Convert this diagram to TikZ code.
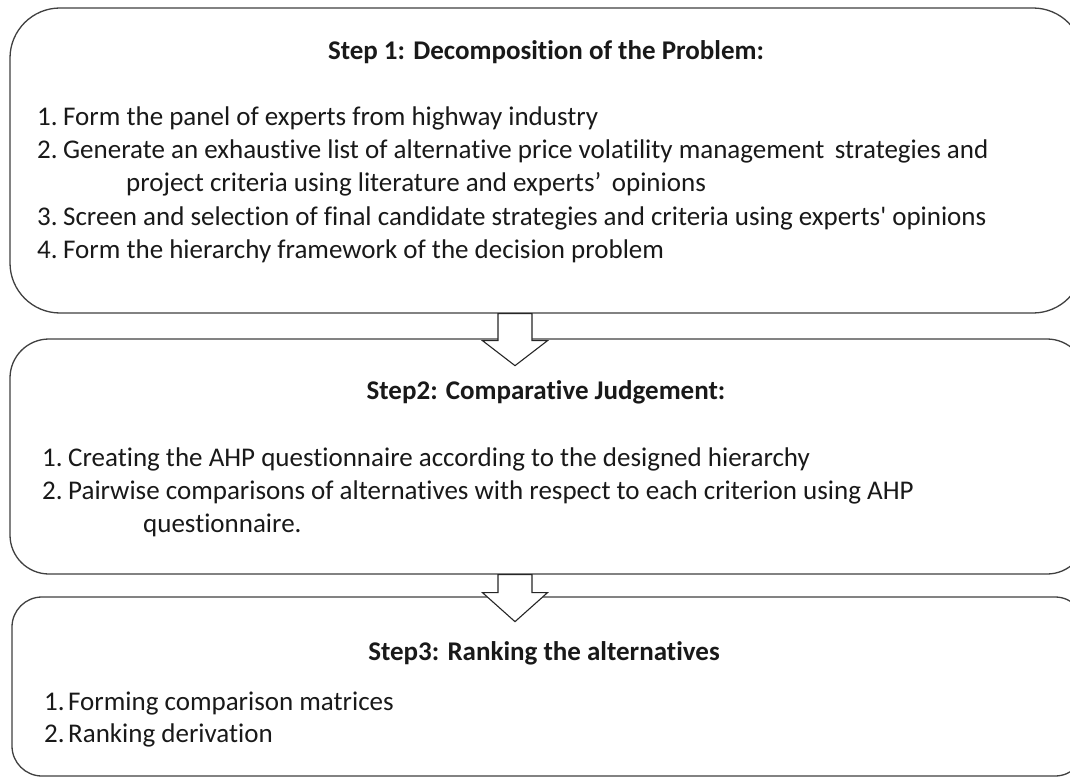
\documentclass[tikz,border=0pt]{standalone}
\usepackage{fontspec}
\setmainfont{Carlito}[Ligatures={NoCommon,TeXOff}]
\usetikzlibrary{positioning,calc}

\tikzset{
  stepbox/.style={draw=black!75, line width=1.3pt, fill=white, rounded corners=#1, inner sep=0pt},
  steptitle/.style={font=\fontsize{27}{33}\selectfont\bfseries, text=black!90, anchor=base, inner sep=0pt},
  stepline/.style={font=\fontsize{27}{33}\selectfont, text=black!90, anchor=base west, inner sep=0pt},
  blockarrow/.style={draw=black!85, line width=1.1pt, fill=white, line join=miter}
}
\newcommand{\stepno}[1]{\makebox[26pt][l]{#1}}

\begin{document}
\begin{tikzpicture}[x=1pt,y=-1pt]
	\useasboundingbox (0,0) rectangle (1070,778);
	\clip (0,0) rectangle (1070,778);
	% the three steps
	\node [stepbox=50, minimum width=1073, minimum height=305] (step1) at (546.5,160.5) {};
	\node [stepbox=39, minimum width=1076, minimum height=235] (step2) at (548,456.5) {};
	\node [stepbox=30, minimum width=1073, minimum height=179] (step3) at (548.5,686.5) {};
	% arrows between the steps
	\draw [blockarrow] ($(step1.south)+(-48.5,0)$) -- ++(0,27) -- ++(-15.5,0) -- ++(32.5,25)
		-- ++(32.5,-25) -- ++(-15.5,0) -- ++(0,-27) -- cycle;
	\draw [blockarrow] ($(step2.south)+(-50,0)$) -- ++(0,18) -- ++(-15.5,0) -- ++(32.5,29)
		-- ++(32.5,-29) -- ++(-15.5,0) -- ++(0,-18) -- cycle;
	% step 1
	\node [steptitle] (t1) at (546,60) {Step 1: Decomposition of the Problem:};
	\node [stepline] (s1a) at (37,126) {\stepno{1.}Form the panel of experts from highway industry};
	\node [stepline] (s1b) at (37,159) {\stepno{2.}Generate an exhaustive list of alternative price volatility management\, strategies and};
	\node [stepline] (s1c) at (126,192) {project criteria using literature and experts’\, opinions};
	\node [stepline] (s1d) at (37,225) {\stepno{3.}Screen and selection of final candidate strategies and criteria using experts' opinions};
	\node [stepline] (s1e) at (37,258) {\stepno{4.}Form the hierarchy framework of the decision problem};
	% step 2
	\node [steptitle] (t2) at (546,399) {Step2: Comparative Judgement:};
	\node [stepline] (s2a) at (42,466) {\stepno{1.}Creating the AHP questionnaire according to the designed hierarchy};
	\node [stepline] (s2b) at (42,499) {\stepno{2.}Pairwise comparisons of alternatives with respect to each criterion using AHP};
	\node [stepline] (s2c) at (143,532) {questionnaire.};
	% step 3
	\node [steptitle] (t3) at (544,660) {Step3: Ranking the alternatives};
	\node [stepline] (s3a) at (44,710) {\makebox[24pt][l]{1.}Forming comparison matrices};
	\node [stepline] (s3b) at (44,742) {\makebox[24pt][l]{2.}Ranking derivation};
\end{tikzpicture}
\end{document}
